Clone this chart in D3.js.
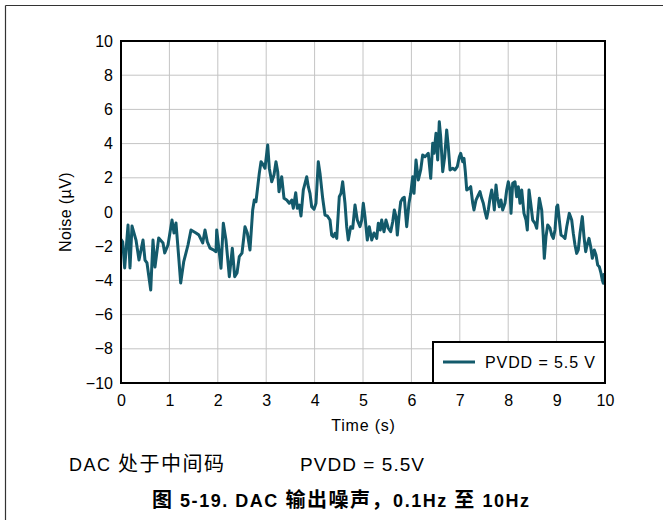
<!DOCTYPE html>
<html><head><meta charset="utf-8">
<script src="https://cdn.jsdelivr.net/npm/d3@7"></script>
<style>body{margin:0;background:#fff} svg{display:block}</style>
</head><body>
<svg id="chart" width="663" height="520"></svg>
<script>
const timeS = [0,0.035,0.076,0.145,0.186,0.227,0.31,0.372,0.455,0.496,0.537,0.614,0.661,0.702,0.779,0.868,0.903,0.971,1.054,1.095,1.136,1.192,1.233,1.295,1.384,1.446,1.55,1.61,1.688,1.736,1.783,1.839,1.90,1.963,1.977,2.025,2.066,2.114,2.169,2.238,2.30,2.349,2.397,2.444,2.50,2.562,2.61,2.665,2.721,2.754,2.789,2.857,2.893,2.94,2.975,3.031,3.064,3.114,3.161,3.202,3.238,3.264,3.32,3.368,3.424,3.477,3.527,3.56,3.61,3.643,3.684,3.719,3.767,3.837,3.87,3.905,3.94,3.988,4.029,4.076,4.112,4.167,4.215,4.262,4.318,4.353,4.386,4.421,4.457,4.51,4.545,4.58,4.628,4.663,4.696,4.746,4.787,4.835,4.882,4.938,4.973,5.006,5.041,5.089,5.13,5.18,5.227,5.283,5.316,5.357,5.386,5.434,5.475,5.523,5.572,5.614,5.647,5.682,5.709,5.75,5.779,5.82,5.853,5.903,5.95,5.986,6.027,6.054,6.095,6.143,6.192,6.233,6.281,6.316,6.349,6.399,6.44,6.467,6.508,6.543,6.576,6.605,6.647,6.688,6.729,6.762,6.798,6.853,6.901,6.948,6.99,7.019,7.06,7.087,7.114,7.143,7.196,7.225,7.267,7.293,7.335,7.382,7.417,7.452,7.486,7.521,7.556,7.589,7.624,7.659,7.692,7.713,7.748,7.775,7.816,7.851,7.886,7.934,7.969,8.002,8.037,8.058,8.093,8.14,8.176,8.209,8.244,8.279,8.326,8.368,8.395,8.43,8.465,8.506,8.554,8.589,8.643,8.692,8.725,8.746,8.781,8.816,8.864,8.899,8.932,8.967,9.002,9.023,9.056,9.091,9.138,9.174,9.209,9.262,9.312,9.345,9.38,9.415,9.448,9.483,9.531,9.566,9.601,9.622,9.669,9.705,9.738,9.779,9.814,9.849,9.882,9.917,9.944,9.965,9.986];
const noiseUV = [-1.6,-1.74,-3.27,-0.76,-3.27,-0.82,-1.64,-2.81,-1.64,-2.81,-2.98,-4.56,-1.64,-3.22,-1.52,-1.81,-2.40,-1.93,-0.47,-1.23,-0.64,-2.63,-4.15,-2.92,-1.93,-1.05,-1.23,-1.35,-1.81,-1.05,-1.74,-2.11,-2.2,-2.32,-1.05,-2.22,-3.29,-0.66,-1.64,-3.78,-2.12,-3.78,-3.57,-2.61,-2.40,-0.86,-1.23,-2.22,0.12,0.70,0.60,2.26,2.94,2.75,2.56,3.92,2.56,1.77,2.16,2.94,2.36,1.19,2.06,0.80,0.70,0.51,0.70,0.22,1.13,0.22,0.41,-0.23,1.29,2.06,1.48,1.09,0.31,0.16,0.51,2.94,2.26,0.80,-0.18,-0.23,-0.47,-1.35,-1.44,-1.25,-1.54,0.89,1.09,1.77,0.51,-0.86,-1.64,-0.86,-0.95,0.41,-0.47,-0.86,-0.47,0.51,-0.27,-1.64,-0.86,-1.64,-1.23,-1.54,-0.66,-1.05,-0.47,-1.15,-0.47,-0.95,-1.15,-0.57,0.12,-0.27,-1.35,-0.08,0.60,0.80,0.86,-0.86,0.51,1.09,2.06,1.09,3.04,1.87,2.46,3.33,3.23,3.33,3.43,1.97,4.02,3.43,4.60,3.04,5.28,4.40,2.36,3.23,4.80,3.82,2.46,2.56,2.46,2.65,3.23,3.43,2.94,3.14,2.36,1.29,1.39,1.48,0.51,0.12,0.70,0.99,1.19,0.80,0.51,0.02,-0.37,0.12,0.80,1.29,0.70,0.12,1.58,0.89,0.31,0.70,0.12,0.51,1.29,1.77,1.29,-0.08,1.68,1.77,0.89,1.48,0.51,1.29,-0.08,-0.47,-1.05,1.29,0.51,-0.47,-0.66,-0.95,0.80,0.12,-1.44,-2.71,-1.44,-0.76,-0.95,-1.35,-1.54,-1.05,0.31,0.41,-0.47,-1.35,-1.44,-1.54,-0.86,-0.08,-0.47,-1.25,-1.93,-2.42,-2.22,-1.25,-0.27,-1.44,-2.32,-2.03,-1.54,-2.03,-2.71,-2.22,-2.51,-3.10,-3.20,-3.58,-3.98,-4.17,-3.58];
const xTickValues = [0,1,2,3,4,5,6,7,8,9,10];
const yTickValues = [-10,-8,-6,-4,-2,0,2,4,6,8,10];
const seriesName = "PVDD = 5.5 V";
const xTitle = "Time (s)";
const yTitle = "Noise (µV)";
const noteLeft = "DAC 处于中间码";
const noteRight = "PVDD = 5.5V";
const caption = "图 5-19. DAC 输出噪声，0.1Hz 至 10Hz";

const FONT = "'Liberation Sans', Arial, 'Noto Sans CJK SC', sans-serif";
const CJKFONT = "'Noto Sans CJK SC', sans-serif";
const lineColor = "#135a6b";
const svg = d3.select("#chart");
const L = 121, R = 605, T = 41, B = 383;
const x = d3.scaleLinear().domain([0, 10]).range([L, R]);
const y = d3.scaleLinear().domain([-10, 10]).range([B, T]);

// page frame
svg.append("line").attr("x1", 5.5).attr("x2", 663).attr("y1", 5.5).attr("y2", 5.5).attr("stroke", "#333").attr("stroke-width", 1.2);
svg.append("line").attr("x1", 5.5).attr("x2", 5.5).attr("y1", 5.5).attr("y2", 520).attr("stroke", "#333").attr("stroke-width", 1.2);

// grid
const g = svg.append("g");
g.selectAll(".vx").data(xTickValues).join("line")
  .attr("x1", d => x(d)).attr("x2", d => x(d)).attr("y1", T).attr("y2", B)
  .attr("stroke", "#c4c4c4").attr("stroke-width", 1);
g.selectAll(".hy").data(yTickValues).join("line")
  .attr("x1", L).attr("x2", R).attr("y1", d => y(d)).attr("y2", d => y(d))
  .attr("stroke", "#c4c4c4").attr("stroke-width", 1);

// data line
const pts = timeS.map((t, i) => [t, noiseUV[i]]);
svg.append("path").datum(pts)
  .attr("d", d3.line().x(d => x(d[0])).y(d => y(d[1])))
  .attr("fill", "none").attr("stroke", lineColor).attr("stroke-width", 3)
  .attr("stroke-linejoin", "round");

// border
svg.append("rect").attr("x", L).attr("y", T).attr("width", R - L).attr("height", B - T)
  .attr("fill", "none").attr("stroke", "#000").attr("stroke-width", 2);

// axes
const ax = svg.append("g").attr("transform", `translate(0,${B})`)
  .call(d3.axisBottom(x).tickValues(xTickValues).tickSize(0).tickPadding(12).tickFormat(d3.format("d")));
const ay = svg.append("g").attr("transform", `translate(${L},0)`)
  .call(d3.axisLeft(y).tickValues(yTickValues).tickSize(0).tickPadding(8).tickFormat(d3.format("d")));
[ax, ay].forEach(a => {
  a.select(".domain").remove();
  a.selectAll("text").attr("font-family", FONT).attr("font-size", 16).attr("fill", "#000");
});

svg.append("text").attr("x", (L + R) / 2 + 0.5).attr("y", 431).attr("text-anchor", "middle")
  .attr("font-family", FONT).attr("font-size", 16).attr("letter-spacing", 0.8).text(xTitle);
svg.append("text").attr("transform", `translate(71,${(T + B) / 2}) rotate(-90)`).attr("text-anchor", "middle")
  .attr("font-family", FONT).attr("font-size", 16).attr("letter-spacing", 0.4).text(yTitle);

// legend
const lg = svg.append("g");
lg.append("rect").attr("x", 433).attr("y", 342).attr("width", R - 433).attr("height", B - 342)
  .attr("fill", "#fff").attr("stroke", "#000").attr("stroke-width", 2);
lg.append("line").attr("x1", 443).attr("x2", 475).attr("y1", 362).attr("y2", 362)
  .attr("stroke", lineColor).attr("stroke-width", 3);
lg.append("text").attr("x", 485).attr("y", 368).attr("font-family", FONT).attr("font-size", 16)
  .attr("letter-spacing", 0.9).text(seriesName);

// mixed Latin / CJK text
function mixedText(str, px, py, latinSize, cjkSize, len, bold) {
  const t = svg.append("text").attr("x", px).attr("y", py).attr("fill", "#000")
    .attr("font-weight", bold ? "bold" : "normal")
    .attr("textLength", len).attr("lengthAdjust", "spacing");
  const parts = str.match(/[\u3000-\u9fff\uff00-\uffef]+|[^\u3000-\u9fff\uff00-\uffef]+/g);
  parts.forEach(p => {
    const cjk = /[\u3000-\u9fff\uff00-\uffef]/.test(p);
    t.append("tspan").attr("font-family", cjk ? CJKFONT : FONT)
      .attr("font-size", cjk ? cjkSize : latinSize).text(p);
  });
}
mixedText(noteLeft, 69, 471, 18, 20, 155, false);
mixedText(noteRight, 300, 471, 19, 20, 124, false);
mixedText(caption, 152, 507, 18, 20, 377, true);
</script>
</body></html>
